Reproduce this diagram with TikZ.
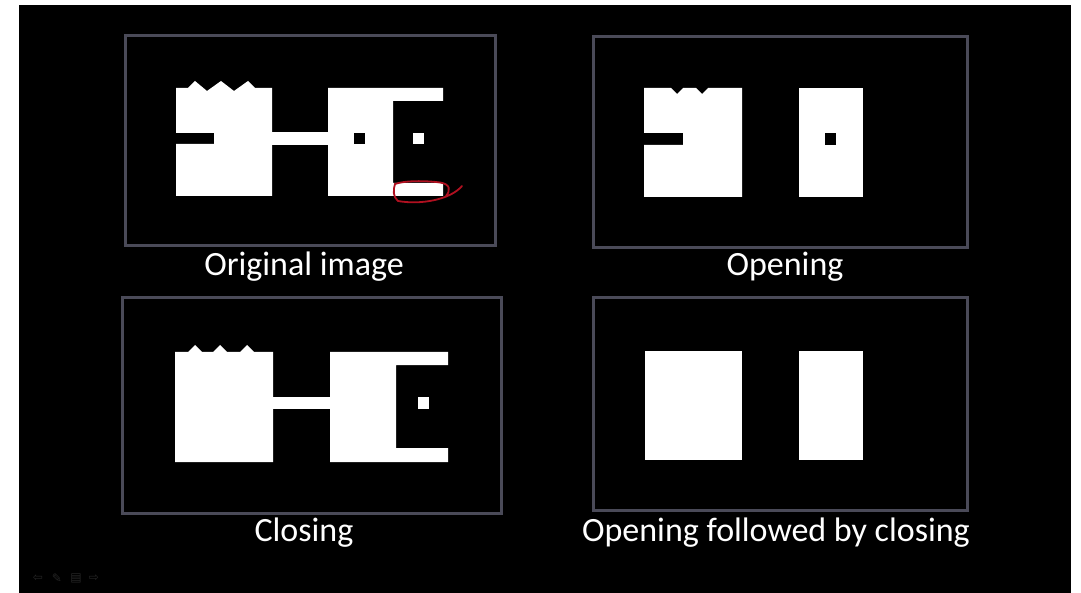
\documentclass[tikz,border=0pt]{standalone}
\usepackage{fontspec}
\setmainfont{Carlito}
\newfontfamily\iconfont{DejaVu Sans}
\usepackage{xcolor}
\definecolor{slideframe}{HTML}{4A4A58}
\definecolor{inkred}{HTML}{B01020}
\definecolor{faintgray}{HTML}{262626}

\tikzset{
  panelframe/.style={draw=slideframe, line width=3pt, inner sep=0pt},
  caption/.style={text=white, font=\fontsize{34}{36}\selectfont, anchor=base, inner sep=0pt},
  blob/.style={fill=white},
  hole/.style={fill=black},
  ctrlicon/.style={text=faintgray, font=\iconfont\fontsize{12}{14}\selectfont, inner sep=0pt}
}

\begin{document}
\begin{tikzpicture}[x=1pt, y=-1pt]
  % slide area
  \fill[white] (0,0) rectangle (1081,593);
  \fill[black] (19,5) rectangle (1071,593);
  \useasboundingbox (0,0) rectangle (1081,593);

  % frames
  \node[panelframe, minimum width=370pt, minimum height=210pt] (origframe) at (310,141) {};
  \node[panelframe, minimum width=374pt, minimum height=211pt] (openframe) at (780,142.5) {};
  \node[panelframe, minimum width=379pt, minimum height=215pt] (closeframe) at (311.5,405.5) {};
  \node[panelframe, minimum width=374pt, minimum height=212pt] (bothframe) at (780,404) {};

  % original image
  \fill[blob] (176,88) -- (188,88) -- (195,81) -- (207,91) -- (221,81) -- (234,91) -- (248,81)
    -- (255,88) -- (272,88) -- (272,196) -- (176,196) -- (176,144) -- (214,144) -- (214,133)
    -- (176,133) -- cycle;
  \fill[blob] (271,132) rectangle (329,145);
  \fill[blob] (328,88) -- (443,88) -- (443,101) -- (393,101) -- (393,183) -- (443,183)
    -- (443,196) -- (328,196) -- cycle;
  \fill[hole] (354,133) rectangle (365,144);
  \fill[blob] (413,133) rectangle (424,144);
  \draw[inkred, line width=1.8pt, line cap=round]
    (446,196) .. controls (451,190) and (450,184) .. (440,182.5)
    .. controls (425,180.5) and (405,180.5) .. (395,184)
    .. controls (393,190) and (393,197) .. (398,201)
    .. controls (420,205) and (450,200) .. (462,186);

  % opening
  \fill[blob] (644,88) -- (671,88) -- (677,94) -- (683,88) -- (696,88) -- (702,94) -- (708,88)
    -- (742,88) -- (742,197) -- (644,197) -- (644,145) -- (683,145) -- (683,133) -- (644,133)
    -- cycle;
  \fill[blob] (799,88) rectangle (863,197);
  \fill[hole] (824.5,133) rectangle (836,145);

  % closing
  \fill[blob] (175,352) -- (188,352) -- (195,345) -- (202,352) -- (213,352)
    -- (220,345) -- (227,352) -- (240,352) -- (247,345) -- (254,352) -- (273,352)
    -- (273,462) -- (175,462) -- cycle;
  \fill[blob] (272,397) rectangle (331,409);
  \fill[blob] (330,352) -- (448,352) -- (448,365) -- (396,365) -- (396,448) -- (448,448)
    -- (448,462) -- (330,462) -- cycle;
  \fill[blob] (418,397) rectangle (429,409);

  % opening followed by closing
  \fill[blob] (644.5,351) rectangle (742,460);
  \fill[blob] (799,351) rectangle (863,460);

  % captions
  \node[caption] (origlabel) at (304,276) {Original image};
  \node[caption] (openlabel) at (785,276) {Opening};
  \node[caption] (closelabel) at (304,541) {Closing};
  \node[caption] (bothlabel) at (776,541) {Opening followed by closing};

  % slide show controls
  \node[ctrlicon] (ctrlback) at (38,578) {⇦};
  \node[ctrlicon] (ctrlpen) at (57,578) {✎};
  \node[ctrlicon] (ctrlmenu) at (76,578) {▤};
  \node[ctrlicon] (ctrlnext) at (94,578) {⇨};
\end{tikzpicture}
\end{document}
